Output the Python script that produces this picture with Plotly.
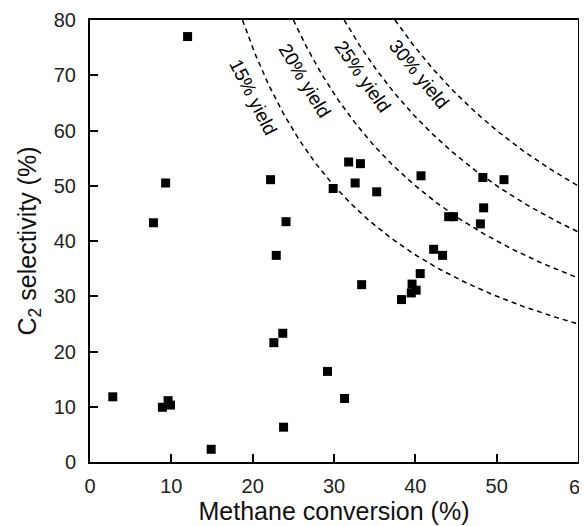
import numpy as np
import plotly.graph_objects as go

# Data
methane_conversion = [2.8, 7.8, 8.9, 9.3, 9.6, 9.9, 12.0, 14.9, 22.2, 22.6, 22.9, 23.7,
                      23.8, 24.1, 29.2, 29.9, 31.3, 31.8, 32.6, 33.25, 33.4, 35.25, 38.3,
                      39.5, 39.6, 40.1, 40.6, 40.7, 42.25, 43.35, 44.1, 44.7, 48.0, 48.3,
                      48.4, 50.9]
c2_selectivity = [11.8, 43.3, 9.9, 50.5, 11.1, 10.3, 77.0, 2.3, 51.1, 21.6, 37.4, 23.3,
                  6.3, 43.5, 16.4, 49.5, 11.5, 54.3, 50.5, 54.0, 32.1, 48.9, 29.4,
                  30.6, 32.2, 31.1, 34.1, 51.8, 38.5, 37.4, 44.4, 44.4, 43.1, 51.5,
                  46.0, 51.1]

x_tick_vals = [0, 10, 20, 30, 40, 50, 60]
y_tick_vals = [0, 10, 20, 30, 40, 50, 60, 70, 80]

# Iso-yield curves: selectivity = yield / conversion * 100
yields = [15, 20, 25, 30]
yield_labels = ["15% yield", "20% yield", "25% yield", "30% yield"]
label_x = [20.0, 26.4, 33.5, 40.5]
label_y = [66.1, 69.1, 69.7, 70.2]
label_angle = [63, 59, 55, 51]

FONT = "Liberation Sans, Arial, sans-serif"
TICK_FONT = dict(family=FONT, size=20, color="#222")

fig = go.Figure()

for yv in yields:
    xs = np.linspace(yv * 100 / 80, 60, 200)
    ys = yv * 100 / xs
    fig.add_trace(go.Scatter(x=xs, y=ys, mode="lines",
                             line=dict(color="black", width=1.5, dash="5px,4px"),
                             hoverinfo="skip", showlegend=False))

fig.add_trace(go.Scatter(x=methane_conversion, y=c2_selectivity, mode="markers",
                         marker=dict(symbol="square", size=9, color="black"),
                         showlegend=False))

for lx, ly, txt, ang in zip(label_x, label_y, yield_labels, label_angle):
    fig.add_annotation(x=lx, y=ly, text=txt, showarrow=False, textangle=ang,
                       font=dict(family=FONT, size=19, color="black"))

# last x tick label sits at the right edge of the page (plotly hides it otherwise)
fig.add_annotation(x=1, y=0, xref="paper", yref="paper", text=str(x_tick_vals[-1]),
                   showarrow=False, yanchor="middle", xanchor="left", xshift=-11,
                   yshift=-25, font=TICK_FONT)

axis_common = dict(showline=True, linecolor="black", linewidth=2, mirror=True,
                   ticks="inside", ticklen=8, tickwidth=2, tickcolor="black",
                   showgrid=False, zeroline=False, automargin=False,
                   tickfont=TICK_FONT)

fig.update_xaxes(range=[0, 60], tickmode="array", tickvals=x_tick_vals,
                 ticktext=[str(v) for v in x_tick_vals],
                 title=dict(text="Methane conversion (%)",
                            font=dict(family=FONT, size=25, color="#111"), standoff=2),
                 ticklabelstandoff=5, **axis_common)
fig.update_yaxes(range=[0, 80], tickmode="array", tickvals=y_tick_vals,
                 ticktext=[str(v) for v in y_tick_vals],
                 title=dict(text="C<sub>2</sub> selectivity (%)",
                            font=dict(family=FONT, size=25, color="#111"), standoff=10),
                 ticklabelstandoff=8, **axis_common)

# page body has an 8px margin, so the figure is sized and offset to compensate
fig.update_layout(width=579, height=518, plot_bgcolor="white", paper_bgcolor="white",
                  margin=dict(l=82, r=9, t=12, b=64, autoexpand=False))

fig.write_html("out.html")
